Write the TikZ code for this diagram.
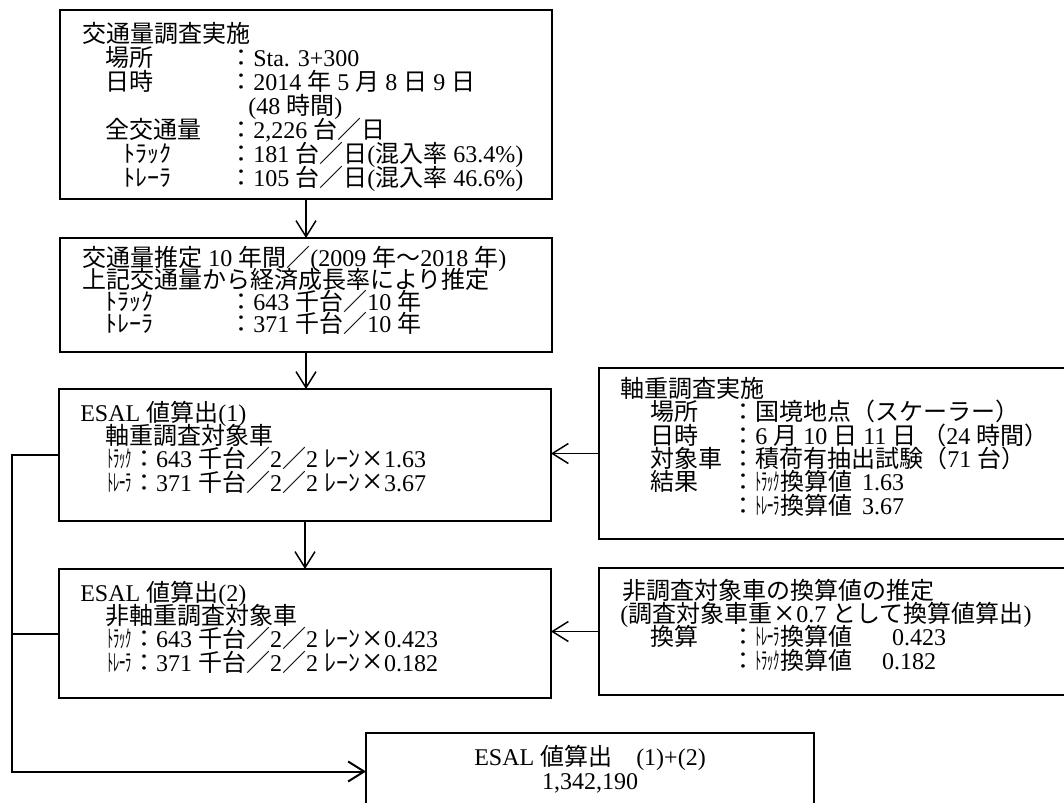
\documentclass[tikz,border=0pt]{standalone}
\usepackage{fontspec}
\usepackage{graphicx}
\usetikzlibrary{arrows.meta}
\setmainfont{Liberation Serif}
\newfontfamily\cjkfont{Noto Sans CJK JP}
\newfontfamily\latinfont{Liberation Serif}

% automatic switch between the Latin and the Japanese font
\newXeTeXintercharclass\cjkcls
\newcount\cjkcnt
\def\cjkrange#1#2{\cjkcnt=#1\relax
  \loop\XeTeXcharclass\cjkcnt=\cjkcls\relax
  \ifnum\cjkcnt<#2\relax\advance\cjkcnt by 1\relax\repeat}
\cjkrange{"3000}{"30FF}
\cjkrange{"4E00}{"9FFF}
\cjkrange{"FF00}{"FFEF}
\XeTeXinterchartoks 0 \cjkcls = {\cjkfont}
\XeTeXinterchartoks 4095 \cjkcls = {\cjkfont}
\XeTeXinterchartoks \cjkcls 0 = {\latinfont}
\XeTeXinterchartoks \cjkcls 4095 = {\latinfont}
\XeTeXinterchartokenstate=1

\newdimen\upx \upx=0.75pt
\newcommand\nar[1]{\scalebox{0.52}[1]{#1}}
\newcommand\X{\makebox[1em]{\raisebox{-0.12em}{\scalebox{1.5}{×}}}}
\newcommand\lab[2]{\makebox[#1\upx][l]{#2}}

% text nodes are placed by the baseline of their last line
\tikzset{
  box/.style={draw, line width=1.1pt, inner sep=0pt, outer sep=0pt, anchor=north west},
  txt/.style={anchor=base west, inner sep=0pt, align=left,
    font={\fontsize{18pt}{17.5pt}\selectfont\lineskiplimit=-100pt}},
  flow/.style={line width=1.1pt, -{Straight Barb[length=12pt,width=15pt]}},
  rail/.style={line width=1.5pt},
}

\begin{document}
\begin{tikzpicture}[x=0.75pt,y=-0.75pt]
\clip (0,0) rectangle (1064,803);

% boxes
\node[box, minimum width=369pt, minimum height=141.75pt] (b1) at (60,10) {};
\node[box, minimum width=369pt, minimum height=85.5pt] (b2) at (60,238) {};
\node[box, minimum width=369pt, minimum height=99pt] (e1) at (59,389) {};
\node[box, minimum width=369pt, minimum height=96.75pt] (e2) at (59,569) {};
\node[box, minimum width=360pt, minimum height=128.25pt] (b5) at (599,368) {};
\node[box, minimum width=360pt, minimum height=95.25pt] (b6) at (599,568) {};
\node[box, minimum width=336pt, minimum height=57.75pt] (b7) at (366,733) {};

% texts
\node[txt, font={\fontsize{18pt}{18pt}\selectfont\lineskiplimit=-100pt}] (t1) at (82,186) {交通量調査実施\\
\hspace*{23\upx}\lab{124}{場所}：Sta. 3+300\\
\hspace*{23\upx}\lab{124}{日時}：2014 年 5 月 8 日 9 日\\
\hspace*{166\upx}(48 時間)\\
\hspace*{23\upx}\lab{124}{全交通量}：2,226 台／日\\
\hspace*{41\upx}\lab{106}{ﾄﾗｯｸ}：181 台／日(混入率 63.4\%)\\
\hspace*{41\upx}\lab{106}{ﾄﾚｰﾗ}：105 台／日(混入率 46.6\%)};

\node[txt, font={\fontsize{18pt}{16.5pt}\selectfont\lineskiplimit=-100pt}] (t2) at (82,332) {交通量推定 10 年間／(2009 年～2018 年)\\
上記交通量から経済成長率により推定\\
\hspace*{23\upx}\lab{124}{ﾄﾗｯｸ}：643 千台／10 年\\
\hspace*{23\upx}\lab{124}{ﾄﾚｰﾗ}：371 千台／10 年};

\node[txt] (t3) at (80,491) {ESAL 値算出(1)\\
\hspace*{25\upx}軸重調査対象車\\
\hspace*{27\upx}\nar{ﾄﾗｯｸ}：643 千台／2／2 ﾚｰﾝ\X 1.63\\
\hspace*{27\upx}\nar{ﾄﾚｰﾗ}：371 千台／2／2 ﾚｰﾝ\X 3.67};

\node[txt] (t4) at (80,671) {ESAL 値算出(2)\\
\hspace*{25\upx}非軸重調査対象車\\
\hspace*{27\upx}\nar{ﾄﾗｯｸ}：643 千台／2／2 ﾚｰﾝ\X 0.423\\
\hspace*{27\upx}\nar{ﾄﾚｰﾗ}：371 千台／2／2 ﾚｰﾝ\X 0.182};

\node[txt] (t5) at (620,514) {軸重調査実施\\
\hspace*{30\upx}\lab{81}{場所}：国境地点（スケーラー）\\
\hspace*{30\upx}\lab{81}{日時}：6 月 10 日 11 日 （24 時間）\\
\hspace*{30\upx}\lab{81}{対象車}：積荷有抽出試験（71 台）\\
\hspace*{30\upx}\lab{81}{結果}：\nar{ﾄﾗｯｸ}換算値\hspace{10\upx}1.63\\
\hspace*{111\upx}：\nar{ﾄﾚｰﾗ}換算値\hspace{10\upx}3.67};

\node[txt] (t6) at (620,669) {\hspace*{2\upx}非調査対象車の換算値の推定\\
(調査対象車重\X 0.7 として換算値算出)\\
\hspace*{30\upx}\lab{81}{換算}：\nar{ﾄﾚｰﾗ}換算値\hspace{40\upx}0.423\\
\hspace*{111\upx}：\nar{ﾄﾗｯｸ}換算値\hspace{30\upx}0.182};

\node[txt, anchor=base, align=center] (t7) at (590,789) {ESAL 値算出　(1)+(2)\\1,342,190};

% connectors
\coordinate (rail) at (12,0);
\draw[flow] (b1.south) -- (b2.north);
\draw[flow] (b2.south) -- (b2.south |- e1.north);
\draw[flow] (e1.south) -- (e2.north);
\draw[flow] (b5.west) -- (b5.west -| e1.east);
\draw[flow] (b6.west) -- (b6.west -| e2.east);
\draw[rail] (e2.west) -- (e2.west -| rail);
\draw[rail, -{Straight Barb[length=12pt,width=15pt]}] (e1.west) -| (rail |- b7.west) -- (b7.west);
\end{tikzpicture}
\end{document}
